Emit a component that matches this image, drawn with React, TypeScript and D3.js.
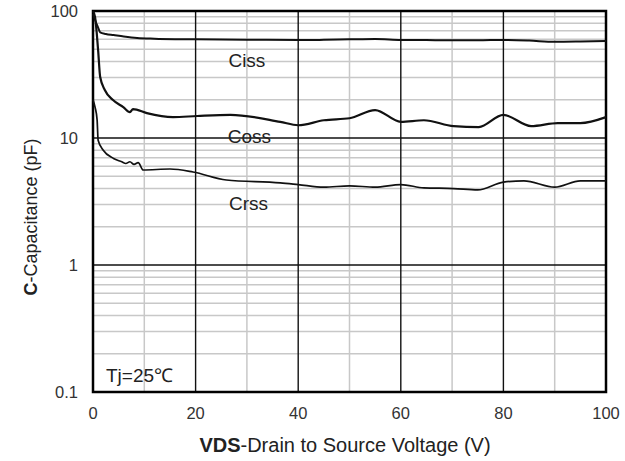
import { useEffect, useRef } from 'react';
import * as d3 from 'd3';

const WIDTH = 625;
const HEIGHT = 461;
const MARGIN = { top: 11, right: 19, bottom: 69, left: 93 };

// Drain-source voltage (V) sample points for each curve
const cissV = [0, 0.4, 1, 1.4, 2.5, 4, 6, 8.6, 12, 16, 20, 30, 40, 45, 50, 55, 60, 65, 70, 75, 80, 85, 90, 95, 100];
const cissC = [95, 85, 74, 68, 66, 64.7, 63, 61.3, 60.5, 60, 59.8, 59.5, 59, 59.3, 59.8, 60.2, 59.2, 59, 58.8, 58.8, 59.2, 58.5, 57.2, 57.5, 58];

const cossV = [0, 0.4, 1, 1.4, 2.3, 3.9, 5.9, 7.2, 7.8, 10.5, 15.6, 20.3, 26.8, 36.5, 40, 45, 50, 55, 60, 64.5, 70.3, 75.2, 80, 85.4, 90.6, 95, 100];
const cossC = [100, 89.7, 49, 30.2, 23.9, 19.9, 17.5, 16.0, 16.9, 15.7, 14.6, 14.9, 15.2, 13.4, 12.6, 13.8, 14.3, 16.6, 13.4, 13.8, 12.4, 12.2, 15.2, 12.4, 13.1, 13.1, 14.6];

const crssV = [0, 0.4, 0.8, 1, 2, 4, 5.6, 6.4, 7.2, 8, 8.8, 9.8, 15, 19.5, 26, 36.5, 40, 45, 50, 55, 60, 64.5, 70.3, 75, 80, 84, 90, 95, 100];
const crssC = [20, 17.5, 13.9, 9.6, 8.0, 6.9, 6.5, 6.3, 6.5, 6.2, 6.4, 5.6, 5.7, 5.4, 4.67, 4.44, 4.3, 4.1, 4.2, 4.1, 4.3, 4.05, 4.0, 3.9, 4.5, 4.6, 4.1, 4.6, 4.6];

const xTicks = [0, 20, 40, 60, 80, 100];
const xMinor = [10, 30, 50, 70, 90];
const yTicks = [0.1, 1, 10, 100];
const yTickLabels = ['0.1', '1', '10', '100'];

const curveLabels = [
  { text: 'Ciss', v: 30, c: 39.7 },
  { text: 'Coss', v: 30.5, c: 10 },
  { text: 'Crss', v: 30.3, c: 2.97 },
];

const FONT = '"Liberation Sans", Arial, sans-serif';

export default function App() {
  const svgRef = useRef<SVGSVGElement>(null);

  useEffect(() => {
    if (!svgRef.current) return;
    const svg = d3.select(svgRef.current);
    svg.selectAll('*').remove();

    const x = d3.scaleLinear().domain([0, 100]).range([MARGIN.left, WIDTH - MARGIN.right]);
    const y = d3.scaleLog().domain([0.1, 100]).range([HEIGHT - MARGIN.bottom, MARGIN.top]);

    const g = svg.append('g');

    // minor horizontal grid (2..9 in each decade)
    const minorY: number[] = [];
    for (let d = 0.1; d < 100; d *= 10) {
      for (let k = 2; k <= 9; k++) minorY.push(+(d * k).toPrecision(3));
    }
    g.selectAll('.my')
      .data(minorY)
      .enter()
      .append('line')
      .attr('x1', x(0))
      .attr('x2', x(100))
      .attr('y1', (d: number) => y(d))
      .attr('y2', (d: number) => y(d))
      .attr('stroke', '#c8c8c8')
      .attr('stroke-width', 1.5);

    g.selectAll('.mx')
      .data(xMinor)
      .enter()
      .append('line')
      .attr('x1', (d: number) => x(d))
      .attr('x2', (d: number) => x(d))
      .attr('y1', y(0.1))
      .attr('y2', y(100))
      .attr('stroke', '#c8c8c8')
      .attr('stroke-width', 1.5);

    // major grid
    g.selectAll('.Y')
      .data(yTicks)
      .enter()
      .append('line')
      .attr('x1', x(0))
      .attr('x2', x(100))
      .attr('y1', (d: number) => y(d))
      .attr('y2', (d: number) => y(d))
      .attr('stroke', '#111')
      .attr('stroke-width', 1.4);

    g.selectAll('.X')
      .data(xTicks)
      .enter()
      .append('line')
      .attr('x1', (d: number) => x(d))
      .attr('x2', (d: number) => x(d))
      .attr('y1', y(0.1))
      .attr('y2', y(100))
      .attr('stroke', '#111')
      .attr('stroke-width', 1.4);

    // border
    g.append('rect')
      .attr('x', x(0))
      .attr('y', y(100))
      .attr('width', x(100) - x(0))
      .attr('height', y(0.1) - y(100))
      .attr('fill', 'none')
      .attr('stroke', '#000')
      .attr('stroke-width', 2.5);

    // curves
    const line = d3
      .line<[number, number]>()
      .x((d: [number, number]) => x(d[0]))
      .y((d: [number, number]) => y(d[1]))
      .curve(d3.curveMonotoneX);

    const series: [number[], number[], number][] = [
      [cissV, cissC, 2],
      [cossV, cossC, 2.2],
      [crssV, crssC, 1.7],
    ];
    series.forEach(([vs, cs, w]) => {
      const pts = vs.map((v, i) => [v, cs[i]] as [number, number]);
      g.append('path')
        .attr('d', line(pts))
        .attr('fill', 'none')
        .attr('stroke', '#111')
        .attr('stroke-width', w)
        .attr('stroke-linejoin', 'round');
    });

    // curve labels
    g.selectAll('.cl')
      .data(curveLabels)
      .enter()
      .append('text')
      .attr('x', (d: any) => x(d.v))
      .attr('y', (d: any) => y(d.c))
      .attr('text-anchor', 'middle')
      .attr('dominant-baseline', 'middle')
      .attr('font-family', FONT)
      .attr('font-size', 19)
      .attr('fill', '#222')
      .text((d: any) => d.text);

    g.append('text')
      .attr('x', x(0) + 13)
      .attr('y', y(0.1) - 10)
      .attr('font-family', FONT)
      .attr('font-size', 19)
      .attr('fill', '#222')
      .text('Tj=25℃');

    // tick labels
    g.selectAll('.xt')
      .data(xTicks)
      .enter()
      .append('text')
      .attr('x', (d: number) => x(d))
      .attr('y', y(0.1) + 27)
      .attr('text-anchor', 'middle')
      .attr('font-family', FONT)
      .attr('font-size', 16.5)
      .attr('fill', '#333')
      .text((d: number) => String(d));

    g.selectAll('.yt')
      .data(yTicks)
      .enter()
      .append('text')
      .attr('x', x(0) - 15)
      .attr('y', (d: number) => y(d))
      .attr('dy', '0.35em')
      .attr('text-anchor', 'end')
      .attr('font-family', FONT)
      .attr('font-size', 16.5)
      .attr('fill', '#333')
      .text((_d: number, i: number) => yTickLabels[i]);

    // axis titles
    const xt = g
      .append('text')
      .attr('x', 345)
      .attr('y', 452)
      .attr('text-anchor', 'middle')
      .attr('font-family', FONT)
      .attr('font-size', 20)
      .attr('fill', '#222');
    xt.append('tspan').attr('font-weight', 'bold').text('VDS');
    xt.append('tspan').text('-Drain to Source Voltage (V)');

    const yt = g
      .append('text')
      .attr('transform', `translate(37, 217) rotate(-90)`)
      .attr('text-anchor', 'middle')
      .attr('font-family', FONT)
      .attr('font-size', 18)
      .attr('fill', '#222');
    yt.append('tspan').attr('font-weight', 'bold').text('C');
    yt.append('tspan').text('-Capacitance (pF)');
  }, []);

  return (
    <svg
      ref={svgRef}
      width={WIDTH}
      height={HEIGHT}
      style={{ position: 'absolute', left: 0, top: 0, background: '#fff' }}
    />
  );
}
